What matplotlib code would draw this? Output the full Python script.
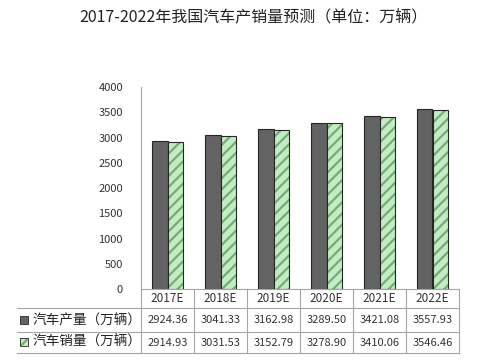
import matplotlib.pyplot as plt
import matplotlib.transforms as mtransforms
from matplotlib.patches import Rectangle

plt.rcParams['font.family'] = ['Noto Sans CJK SC', 'DejaVu Sans']
plt.rcParams['hatch.linewidth'] = 1.6

years = ['2017E', '2018E', '2019E', '2020E', '2021E', '2022E']
production = [2924.36, 3041.33, 3162.98, 3289.50, 3421.08, 3557.93]
sales = [2914.93, 3031.53, 3152.79, 3278.90, 3410.06, 3546.46]
series_names = ['汽车产量（万辆）', '汽车销量（万辆）']
yticks = [0, 500, 1000, 1500, 2000, 2500, 3000, 3500, 4000]

W, H = 491, 363
fig = plt.figure(figsize=(W / 100, H / 100), dpi=100)
ax = fig.add_axes([141 / W, 1 - 289 / H, 318 / W, 202 / H])

x = list(range(len(years)))
bw = 0.3
ax.bar([i - bw / 2 for i in x], production, bw, color='#636363', edgecolor='#262626', linewidth=0.8)
# hatched fill first (hatch takes the edge colour), then a plain outline on top
ax.bar([i + bw / 2 for i in x], sales, bw, color='#c4ecc4', edgecolor='#72ad72', linewidth=0, hatch='///')
ax.bar([i + bw / 2 for i in x], sales, bw, fill=False, edgecolor='#262626', linewidth=0.8)

ax.set_xlim(-0.5, len(years) - 0.5)
ax.set_ylim(0, 4000)
ax.set_yticks(yticks)
ax.set_yticklabels([str(v) for v in yticks], fontsize=8, color='#333333')
ax.tick_params(axis='y', length=0, pad=13)
ax.set_xticks([])
for s in ['top', 'right', 'bottom']:
    ax.spines[s].set_visible(False)
ax.spines['left'].set_color('#a6a6a6')

fig.text(253 / W, 1 - 17 / H, '2017-2022年我国汽车产销量预测（单位：万辆）',
         ha='center', va='center', fontsize=11.5, color='#222222')

# data table under the plot
tr = mtransforms.blended_transform_factory(ax.transData, ax.transAxes)
line_kw = dict(color='#a6a6a6', linewidth=0.8, clip_on=False)
px = 202.0
rows_y = [0, -19 / px, -43 / px, -64 / px]
left_x = -0.5 - 124 / 53
right_x = len(years) - 0.5
ax.plot([-0.5, right_x], [rows_y[0]] * 2, transform=tr, **line_kw)
for yy in rows_y[1:]:
    ax.plot([left_x, right_x], [yy, yy], transform=tr, **line_kw)
for i in range(len(years) + 1):
    ax.plot([i - 0.5, i - 0.5], [rows_y[0], rows_y[-1]], transform=tr, **line_kw)

for i, y in enumerate(years):
    ax.text(i, (rows_y[0] + rows_y[1]) / 2, y, transform=tr, ha='center', va='center',
            fontsize=8.5, color='#333333')
    ax.text(i, (rows_y[1] + rows_y[2]) / 2, f'{production[i]:.2f}', transform=tr,
            ha='center', va='center', fontsize=8, color='#333333')
    ax.text(i, (rows_y[2] + rows_y[3]) / 2, f'{sales[i]:.2f}', transform=tr,
            ha='center', va='center', fontsize=8, color='#333333')

# legend keys in the row headers
yc = [1 - (320 + 22 * k) / H for k in range(2)]
fig.patches.append(Rectangle((20 / W, yc[0] - 4 / H), 8 / W, 8 / H, transform=fig.transFigure,
                             facecolor='#636363', edgecolor='#262626', linewidth=0.6))
fig.patches.append(Rectangle((20 / W, yc[1] - 4 / H), 8 / W, 8 / H, transform=fig.transFigure,
                             facecolor='#c4ecc4', edgecolor='#72ad72', linewidth=0, hatch='///'))
fig.patches.append(Rectangle((20 / W, yc[1] - 4 / H), 8 / W, 8 / H, transform=fig.transFigure,
                             fill=False, edgecolor='#262626', linewidth=0.6))
for k, name in enumerate(series_names):
    fig.text(32 / W, yc[k], name, ha='left', va='center', fontsize=9.8, color='#222222')

fig.savefig('out.png', dpi=100)
